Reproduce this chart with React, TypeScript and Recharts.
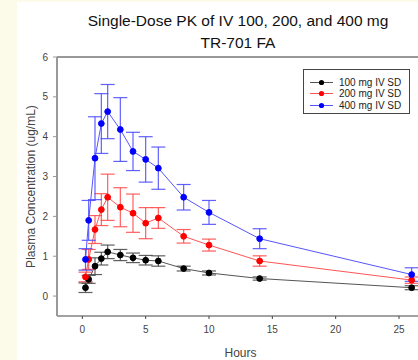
import React from 'react';
import { LineChart, Line, XAxis, YAxis, ErrorBar, ReferenceLine } from 'recharts';

const hours = [0.25, 0.5, 1, 1.5, 2, 3, 4, 5, 6, 8, 10, 14, 26];
const mean100 = [0.21, 0.42, 0.75, 0.94, 1.11, 1.03, 0.96, 0.9, 0.88, 0.69, 0.58, 0.44, 0.21];
const sd100 = [0.12, 0.1, 0.21, 0.16, 0.17, 0.14, 0.12, 0.12, 0.13, 0.06, 0.05, 0.04, 0.05];
const mean200 = [0.48, 0.92, 1.67, 2.17, 2.48, 2.23, 2.08, 1.83, 1.96, 1.5, 1.28, 0.88, 0.4];
const sd200 = [0.12, 0.25, 0.35, 0.4, 0.58, 0.49, 0.48, 0.39, 0.26, 0.17, 0.15, 0.13, 0.08];
const mean400 = [0.92, 1.9, 3.46, 4.33, 4.63, 4.18, 3.63, 3.43, 3.21, 2.48, 2.1, 1.44, 0.54];
const sd400 = [0.27, 0.5, 1.04, 0.75, 0.68, 0.8, 0.48, 0.57, 0.53, 0.32, 0.3, 0.25, 0.17];
const xTicks = [0, 5, 10, 15, 20, 25];
const yTicks = [0, 1, 2, 3, 4, 5, 6];

const series = [
  { key: 'c100', err: 'e100', name: '100 mg IV SD', color: '#000000', line: '#555555', bar: '#444444' },
  { key: 'c200', err: 'e200', name: '200 mg IV SD', color: '#ff0000', line: '#ff5555', bar: '#ff4444' },
  { key: 'c400', err: 'e400', name: '400 mg IV SD', color: '#0000ff', line: '#5555ff', bar: '#4444ff' },
];

const data = hours.map((t, i) => ({
  t,
  c100: mean100[i], e100: sd100[i],
  c200: mean200[i], e200: sd200[i],
  c400: mean400[i], e400: sd400[i],
}));

const FONT = '"Liberation Sans", Arial, sans-serif';

const LegendBox = () => (
  <div style={{ position: 'absolute', left: 303, top: 69, border: '1px solid #444', background: '#fff', width: 107, height: 45, boxSizing: 'border-box', paddingTop: 7, fontFamily: FONT }}>
    {series.map((s) => (
      <div key={s.key} style={{ display: 'flex', alignItems: 'center', height: 11.3 }}>
        <svg width={35} height={11} style={{ display: 'block' }}>
          <line x1={6} y1={5.5} x2={29} y2={5.5} stroke={s.line} strokeWidth={1} />
          <circle cx={17.5} cy={5.5} r={2.6} fill={s.color} />
        </svg>
        <span style={{ fontSize: 10, color: '#222', lineHeight: '11px' }}>{s.name}</span>
      </div>
    ))}
  </div>
);

const YLabel = (props: any) => {
  const vb = props.viewBox || { x: 0, y: 57, width: 57, height: 259 };
  const cx = 31;
  const cy = vb.y + vb.height / 2;
  return (
    <text x={cx} y={cy} transform={`rotate(-90 ${cx} ${cy})`} textAnchor="middle" dominantBaseline="central"
      fontSize={12} fill="#444" fontFamily={FONT}>
      Plasma Concentration (ug/mL)
    </text>
  );
};

export default function App() {
  return (
    <div style={{ position: 'absolute', left: 0, top: 0, width: 418, height: 360, background: '#fff', overflow: 'hidden' }}>
      <div style={{ position: 'absolute', left: 0, top: 0, width: 17, height: 360, background: '#fcfae8' }} />
      <div style={{ position: 'absolute', left: 0, top: 0, width: 418, height: 2, background: '#fcfae8' }} />
      <div style={{ position: 'absolute', left: 0, top: 10, width: 476, textAlign: 'center', fontFamily: FONT, fontSize: 15.5, lineHeight: '22px', color: '#111' }}>
        Single-Dose PK of IV 100, 200, and 400 mg<br />TR-701 FA
      </div>
      <div style={{ position: 'absolute', left: 0, top: 0 }}>
        <LineChart width={418} height={360} data={data} margin={{ top: 57, right: 0, left: 0, bottom: 0 }}>
          <XAxis
            type="number"
            dataKey="t"
            domain={[-2, 26.5]}
            ticks={xTicks}
            allowDataOverflow
            height={44}
            tickSize={3}
            tickMargin={7}
            stroke="#444"
            axisLine={{ stroke: '#444', strokeWidth: 1.2 }}
            tick={{ fill: '#444', fontSize: 10, fontFamily: FONT }}
            label={{ value: 'Hours', position: 'insideBottom', offset: 3, dx: 3, fontSize: 12, fill: '#444', fontFamily: FONT }}
          />
          <YAxis
            type="number"
            domain={[-0.5, 6]}
            ticks={yTicks}
            allowDataOverflow
            width={57}
            tickSize={4}
            tickMargin={5}
            stroke="#999"
            axisLine={{ stroke: '#999', strokeWidth: 2 }}
            tick={{ fill: '#444', fontSize: 10, fontFamily: FONT }}
            label={<YLabel />}
          />
          <ReferenceLine y={6} stroke="#333" strokeWidth={1} />
          {series.map((s) => (
            <Line
              key={s.key}
              type="linear"
              dataKey={s.key}
              name={s.name}
              stroke={s.line}
              strokeWidth={1}
              isAnimationActive={false}
              dot={{ r: 2.9, fill: s.color, stroke: s.color, strokeWidth: 1 }}
              activeDot={false}
            >
              <ErrorBar dataKey={s.err} width={7} stroke={s.bar} strokeWidth={1.2} strokeOpacity={0.85} direction="y" isAnimationActive={false} />
            </Line>
          ))}
        </LineChart>
      </div>
      <LegendBox />
    </div>
  );
}
